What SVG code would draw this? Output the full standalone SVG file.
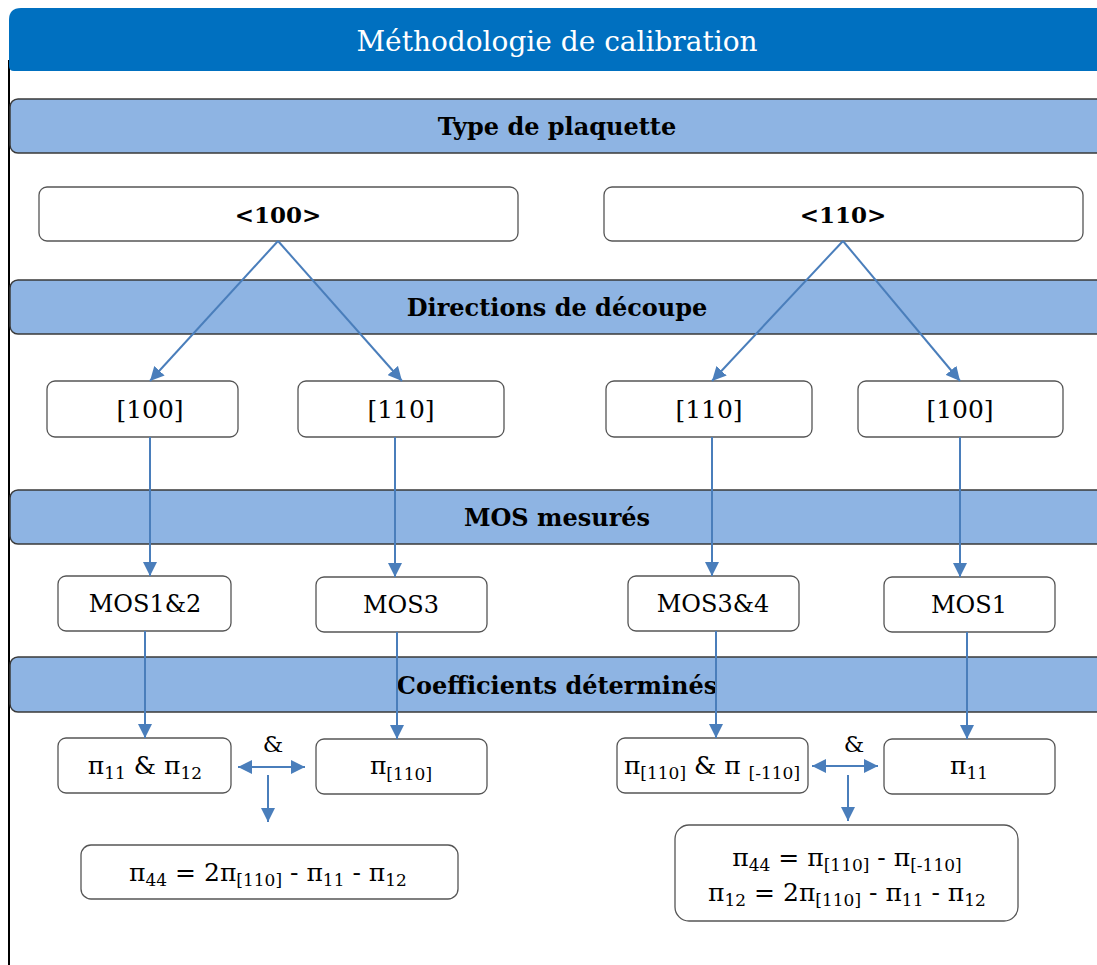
<svg xmlns="http://www.w3.org/2000/svg" width="1097" height="965" viewBox="0 0 1097 965">
<style>
.band{fill:#8EB4E3;stroke:#3A3A3A;stroke-width:1.5}
.box{fill:#fff;stroke:#555;stroke-width:1.3}
.t{font-family:"DejaVu Serif","Liberation Serif",serif;fill:#000;text-anchor:middle}
.bt{font-family:"DejaVu Serif","Liberation Serif",serif;font-weight:bold;font-size:24px;fill:#000;text-anchor:middle}
.c{stroke:#4A7EBB;stroke-width:2;fill:none}
.s{font-size:17px}
</style>
<defs>
<marker id="a" viewBox="0 0 12 12" refX="12" refY="6" markerWidth="14" markerHeight="14" orient="auto-start-reverse" markerUnits="userSpaceOnUse"><path d="M0,0 L12,6 L0,12 z" fill="#4A7EBB"/></marker>
</defs>
<rect width="1097" height="965" fill="#fff"/>
<line x1="9" y1="60" x2="9" y2="965" stroke="#000" stroke-width="2"/>
<g id="title">
<path d="M9,20 Q9,8 21,8 L1100,8 L1100,71 L14,71 Q9,71 9,66 Z" fill="#0070C0"/>
<text class="t" x="557" y="51" font-size="28" style="fill:#fff">Méthodologie de calibration</text>
</g>
<g id="band1"><rect class="band" x="10" y="99" width="1100" height="54" rx="8"/><text class="bt" x="557" y="135">Type de plaquette</text></g>
<g id="band2"><rect class="band" x="10" y="280" width="1100" height="54" rx="8"/><text class="bt" x="557" y="316">Directions de découpe</text></g>
<g id="band3"><rect class="band" x="10" y="490" width="1100" height="54" rx="8"/><text class="bt" x="557" y="526">MOS mesurés</text></g>
<g id="band4"><rect class="band" x="10" y="657" width="1100" height="55" rx="8"/><text class="bt" x="557" y="694">Coefficients déterminés</text></g>

<g id="w100"><rect class="box" x="39" y="187" width="479" height="54" rx="8"/><text class="bt" x="278" y="223" style="font-size:23px">&lt;100&gt;</text></g>
<g id="w110"><rect class="box" x="604" y="187" width="479" height="54" rx="8"/><text class="bt" x="843" y="223" style="font-size:23px">&lt;110&gt;</text></g>

<g id="d1"><rect class="box" x="47" y="381" width="191" height="56" rx="8"/><text class="t" x="150" y="418" font-size="25">[100]</text></g>
<g id="d2"><rect class="box" x="298" y="381" width="206" height="56" rx="8"/><text class="t" x="401" y="418" font-size="25">[110]</text></g>
<g id="d3"><rect class="box" x="606" y="381" width="206" height="56" rx="8"/><text class="t" x="709" y="418" font-size="25">[110]</text></g>
<g id="d4"><rect class="box" x="858" y="381" width="205" height="56" rx="8"/><text class="t" x="960" y="418" font-size="25">[100]</text></g>

<g id="m1"><rect class="box" x="58" y="576" width="173" height="55" rx="8"/><text class="t" x="145" y="612" font-size="24">MOS1&amp;2</text></g>
<g id="m2"><rect class="box" x="316" y="577" width="171" height="55" rx="8"/><text class="t" x="401" y="613" font-size="24">MOS3</text></g>
<g id="m3"><rect class="box" x="628" y="576" width="171" height="55" rx="8"/><text class="t" x="713" y="612" font-size="24">MOS3&amp;4</text></g>
<g id="m4"><rect class="box" x="884" y="577" width="171" height="55" rx="8"/><text class="t" x="969" y="613" font-size="24">MOS1</text></g>

<g id="k1"><rect class="box" x="58" y="738" width="173" height="55" rx="8"/><text class="t" x="145" y="774" font-size="25">π<tspan class="s" dy="5">11</tspan><tspan dy="-5"> &amp; π</tspan><tspan class="s" dy="5">12</tspan></text></g>
<g id="k2"><rect class="box" x="316" y="739" width="171" height="55" rx="8"/><text class="t" x="401" y="774" font-size="25">π<tspan class="s" dy="6">[110]</tspan></text></g>
<g id="k3"><rect class="box" x="617" y="738" width="191" height="55" rx="8"/><text class="t" x="712" y="774" font-size="25">π<tspan class="s" dy="5">[110]</tspan><tspan dy="-5"> &amp; π </tspan><tspan class="s" dy="5">[-110]</tspan></text></g>
<g id="k4"><rect class="box" x="884" y="739" width="171" height="55" rx="8"/><text class="t" x="969" y="774" font-size="25">π<tspan class="s" dy="5">11</tspan></text></g>

<g id="r1"><rect class="box" x="81" y="845" width="377" height="54" rx="10"/><text class="t" x="268" y="881" font-size="25">π<tspan class="s" dy="5">44</tspan><tspan dy="-5"> = 2π</tspan><tspan class="s" dy="5">[110]</tspan><tspan dy="-5"> - π</tspan><tspan class="s" dy="5">11</tspan><tspan dy="-5"> - π</tspan><tspan class="s" dy="5">12</tspan></text></g>
<g id="r2"><rect class="box" x="675" y="825" width="343" height="96" rx="14"/>
<text class="t" x="847" y="866" font-size="25">π<tspan class="s" dy="5">44</tspan><tspan dy="-5"> = π</tspan><tspan class="s" dy="5">[110]</tspan><tspan dy="-5"> - π</tspan><tspan class="s" dy="5">[-110]</tspan></text>
<text class="t" x="847" y="901" font-size="25">π<tspan class="s" dy="5">12</tspan><tspan dy="-5"> = 2π</tspan><tspan class="s" dy="5">[110]</tspan><tspan dy="-5"> - π</tspan><tspan class="s" dy="5">11</tspan><tspan dy="-5"> - π</tspan><tspan class="s" dy="5">12</tspan></text></g>

<g id="amp">
<text class="t" x="273" y="752" font-size="23">&amp;</text>
<text class="t" x="854" y="752" font-size="23">&amp;</text>
</g>

<g id="connectors">
<line class="c" x1="278" y1="241" x2="150" y2="381" marker-end="url(#a)"/>
<line class="c" x1="278" y1="241" x2="402" y2="381" marker-end="url(#a)"/>
<line class="c" x1="843" y1="241" x2="712" y2="381" marker-end="url(#a)"/>
<line class="c" x1="843" y1="241" x2="960" y2="381" marker-end="url(#a)"/>
<line class="c" x1="150" y1="437" x2="150" y2="576" marker-end="url(#a)"/>
<line class="c" x1="395" y1="437" x2="395" y2="577" marker-end="url(#a)"/>
<line class="c" x1="712" y1="437" x2="712" y2="576" marker-end="url(#a)"/>
<line class="c" x1="960" y1="437" x2="960" y2="577" marker-end="url(#a)"/>
<line class="c" x1="145" y1="631" x2="145" y2="738" marker-end="url(#a)"/>
<line class="c" x1="397" y1="632" x2="397" y2="739" marker-end="url(#a)"/>
<line class="c" x1="716" y1="631" x2="716" y2="738" marker-end="url(#a)"/>
<line class="c" x1="967" y1="632" x2="967" y2="739" marker-end="url(#a)"/>
<line class="c" x1="238" y1="767" x2="305" y2="767" marker-start="url(#a)" marker-end="url(#a)"/>
<line class="c" x1="268" y1="775" x2="268" y2="822" marker-end="url(#a)"/>
<line class="c" x1="812" y1="766" x2="878" y2="766" marker-start="url(#a)" marker-end="url(#a)"/>
<line class="c" x1="848" y1="775" x2="848" y2="821" marker-end="url(#a)"/>
</g>
</svg>
